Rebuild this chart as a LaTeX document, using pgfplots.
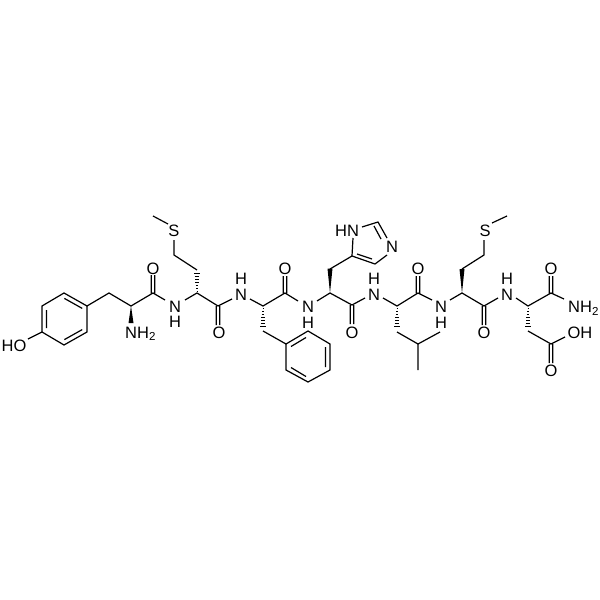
\documentclass[border=0pt]{standalone}
\usepackage{pgfplots}
\pgfplotsset{compat=1.18}
\usepackage{fontspec}
\setmainfont{Liberation Sans}

\tikzset{atom/.style={anchor=base,inner sep=0pt,font=\fontsize{16.5}{17}\selectfont}}

\begin{document}
\begin{tikzpicture}
\path[use as bounding box] (0,0) rectangle (600pt,600pt);
\begin{axis}[
  at={(0,0)}, anchor=south west,
  scale only axis,
  width=600pt, height=600pt,
  xmin=0, xmax=600, ymin=0, ymax=600,
  y dir=reverse,
  hide axis, clip=false,
  unbounded coords=jump,
  cycle list={{black}},
  every axis plot/.append style={no markers,line width=1.2pt,line join=miter,line cap=butt},
]
% plain bonds, each run of atoms split by nan
\addplot coordinates {
  (28,339)(42,332)(42,306)(64,293)(87,306)(87,332)(64,345)(42,332) (nan,nan)
  (46.5,310)(46.5,328) (nan,nan)
  (64.4,298.4)(82.2,308.4) (nan,nan)
  (82.2,329.6)(64.4,339.6) (nan,nan)
  (87,306)(109,293)(131,306)(153,293)(165,300) (nan,nan)
  (151.2,293)(151.2,275) (nan,nan)
  (154.8,293)(154.8,275) (nan,nan)
  (185,300)(197,293)(218,306)(232,299) (nan,nan)
  (197,270)(174,255)(174,240) (nan,nan)
  (168,224)(153,216) (nan,nan)
  (216.2,306)(216.2,325) (nan,nan)
  (219.8,306)(219.8,325) (nan,nan)
  (250,299)(263,306)(285,293)(298,301) (nan,nan)
  (263,331)(286,344)(308,331)(330,344)(330,370)(308,382)(286,370)(286,344) (nan,nan)
  (291,346.5)(306,337.5) (nan,nan)
  (325.5,347)(325.5,367) (nan,nan)
  (291,367.5)(306,376.5) (nan,nan)
  (283.2,293)(283.2,276) (nan,nan)
  (286.8,293)(286.8,276) (nan,nan)
  (317,301)(330,293)(352,305)(365,298) (nan,nan)
  (330,269)(352,256)(353,238) (nan,nan)
  (362,227)(378,222)(387,238) (nan,nan)
  (374,226)(381,239) (nan,nan)
  (387,255)(375,264)(352,256) (nan,nan)
  (372,259)(357,254) (nan,nan)
  (350.2,305)(350.2,324) (nan,nan)
  (353.8,305)(353.8,324) (nan,nan)
  (383,298)(397,306)(418,293)(432,300) (nan,nan)
  (397,332)(418,344)(440,332) (nan,nan)
  (418,344)(418,370) (nan,nan)
  (416.2,293)(416.2,276) (nan,nan)
  (419.8,293)(419.8,276) (nan,nan)
  (450,300)(462,293)(484,306)(498,298) (nan,nan)
  (462,269)(484,255)(484,240) (nan,nan)
  (492,223)(507,216) (nan,nan)
  (482.2,306)(482.2,325) (nan,nan)
  (485.8,306)(485.8,325) (nan,nan)
  (516,298)(528,306)(551,293)(564,299) (nan,nan)
  (528,331)(551,344)(565,337) (nan,nan)
  (549.2,344)(549.2,363) (nan,nan)
  (552.8,344)(552.8,363) (nan,nan)
  (549.2,293)(549.2,276) (nan,nan)
  (552.8,293)(552.8,276)
};
% solid wedges
\addplot[fill=black,draw=none] coordinates {(131,306)(128.5,323)(133.5,323)} -- cycle;
\addplot[fill=black,draw=none] coordinates {(330,293)(327.5,268.5)(332.5,268.5)} -- cycle;
\addplot[fill=black,draw=none] coordinates {(462,293)(459.5,269)(464.5,269)} -- cycle;
% hashed wedges
\addplot[line width=0.9pt] coordinates {
  (196.5,291)(197.5,291) (nan,nan) (196,288)(198,288) (nan,nan) (195.7,285)(198.3,285) (nan,nan)
  (195.3,282)(198.7,282) (nan,nan) (195,279)(199,279) (nan,nan) (194.6,276)(199.4,276) (nan,nan)
  (194.2,273)(199.8,273) (nan,nan)
  (262.5,308)(263.5,308) (nan,nan) (262,311)(264,311) (nan,nan) (261.7,314)(264.3,314) (nan,nan)
  (261.3,317)(264.7,317) (nan,nan) (261,320)(265,320) (nan,nan) (260.6,323)(265.4,323) (nan,nan)
  (260.2,326)(265.8,326) (nan,nan)
  (396.5,308)(397.5,308) (nan,nan) (396,311)(398,311) (nan,nan) (395.7,314)(398.3,314) (nan,nan)
  (395.3,317)(398.7,317) (nan,nan) (395,320)(399,320) (nan,nan) (394.6,323)(399.4,323) (nan,nan)
  (394.2,326)(399.8,326) (nan,nan)
  (527.5,308)(528.5,308) (nan,nan) (527,311)(529,311) (nan,nan) (526.7,314)(529.3,314) (nan,nan)
  (526.3,317)(529.7,317) (nan,nan) (526,320)(530,320) (nan,nan) (525.6,323)(530.4,323) (nan,nan)
  (525.2,326)(530.8,326)
};
% atom labels
\node[atom,anchor=base west] at (axis cs:1.5,351) {HO};
\node[atom,anchor=base west] at (axis cs:125,338) {NH\textsubscript{2}};
\node[atom] at (axis cs:153,274) {O};
\node[atom] at (axis cs:175,312) {N};
\node[atom] at (axis cs:175,327.5) {H};
\node[atom] at (axis cs:174,236) {S};
\node[atom] at (axis cs:219,338) {O};
\node[atom] at (axis cs:241,300) {N};
\node[atom] at (axis cs:241,284.5) {H};
\node[atom] at (axis cs:285,274) {O};
\node[atom] at (axis cs:308,312.5) {N};
\node[atom] at (axis cs:308,328) {H};
\node[atom] at (axis cs:347,236) {HN};
\node[atom] at (axis cs:392,252.5) {N};
\node[atom] at (axis cs:352,338) {O};
\node[atom] at (axis cs:374,300.5) {N};
\node[atom] at (axis cs:374,284) {H};
\node[atom] at (axis cs:418,274) {O};
\node[atom] at (axis cs:441,312.5) {N};
\node[atom] at (axis cs:441,328) {H};
\node[atom] at (axis cs:485,236) {S};
\node[atom] at (axis cs:484,338) {O};
\node[atom] at (axis cs:507,300) {N};
\node[atom] at (axis cs:507,284.5) {H};
\node[atom] at (axis cs:551,274) {O};
\node[atom,anchor=base west] at (axis cs:568,312.5) {NH\textsubscript{2}};
\node[atom] at (axis cs:580,338) {OH};
\node[atom] at (axis cs:551,376) {O};
\end{axis}
\end{tikzpicture}
\end{document}
